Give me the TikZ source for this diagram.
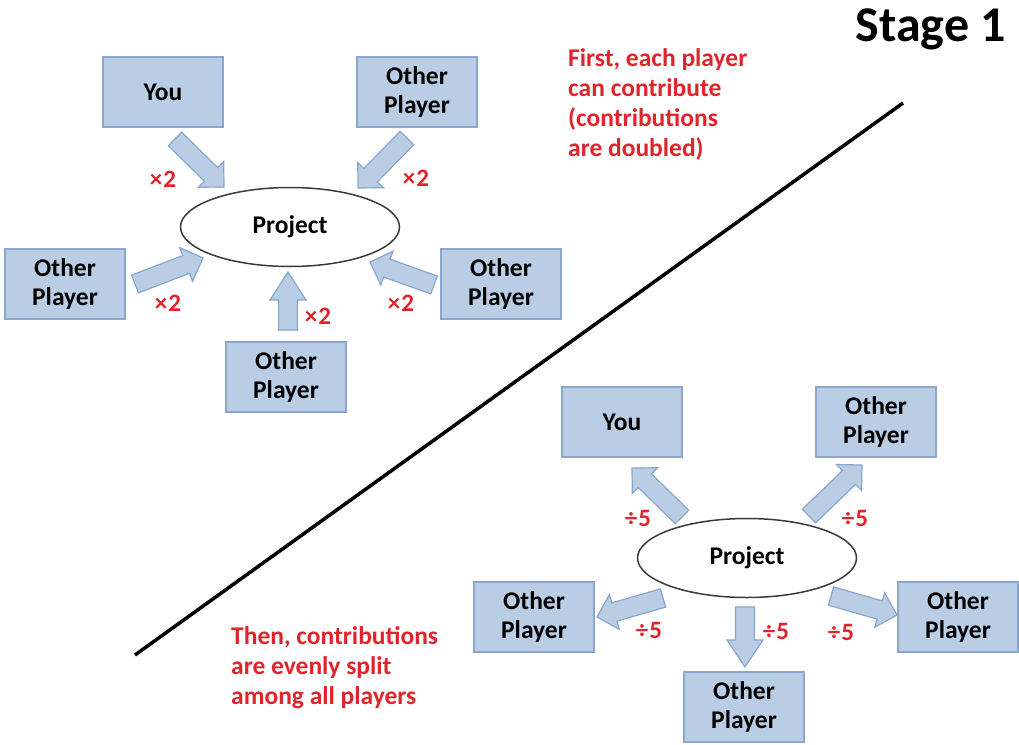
\documentclass[tikz,border=0pt]{standalone}
\usepackage{fontspec}
\setmainfont{Carlito}
\usetikzlibrary{calc,shapes.geometric}
\definecolor{boxfill}{HTML}{B9CDE5}
\definecolor{boxline}{HTML}{8AA6CC}
\definecolor{redtxt}{HTML}{E0242C}
\definecolor{ellline}{HTML}{3A3A3A}
% block arrow from tail coordinate #1 to tip coordinate #2, head length #3
\newcommand\blockarrow[3]{%
  \draw[barrow] let \p1=(#1), \p2=(#2),
      \n1={atan2(\y2-\y1,\x2-\x1)}, \n2={veclen(\x2-\x1,\y2-\y1)} in
    [shift={(\p1)}, rotate=\n1]
    (0pt,-9.5pt) -- ({\n2*1pt-#3pt},-9.5pt) -- ({\n2*1pt-#3pt},-18pt)
    -- ({\n2*1pt},0pt) -- ({\n2*1pt-#3pt},18pt) -- ({\n2*1pt-#3pt},9.5pt)
    -- (0pt,9.5pt) -- cycle;}
\begin{document}
\begin{tikzpicture}[x=1pt,y=-1pt,
  player/.style={draw=boxline, fill=boxfill, line width=1.3pt,
    minimum width=120pt, minimum height=70pt, inner sep=0pt, align=center,
    font=\fontsize{25.5}{29.5}\selectfont\bfseries},
  project/.style={ellipse, draw=ellline, fill=white, line width=1.5pt,
    minimum width=219pt, minimum height=79pt, inner sep=0pt,
    font=\fontsize{25.5}{29}\selectfont\bfseries},
  barrow/.style={draw=boxline, fill=boxfill, line width=1.2pt, line join=miter},
  factor/.style={text=redtxt, font=\fontsize{25}{29}\selectfont\bfseries, inner sep=0pt},
  note/.style={text=redtxt, font=\fontsize{25.5}{30}\selectfont\bfseries,
    align=left, inner sep=0pt, anchor=west}]
\useasboundingbox (0,0) rectangle (1019,744);
\fill[white] (0,0) rectangle (1019,744);

% dividing line
\coordinate (d1) at (135,655);
\coordinate (d2) at (903,103);
\draw[line width=3.5pt, black] (d1) -- (d2);

% ---------- Stage 1 (contribution) ----------
\node[project] (p1) at (290,227) {Project};
\node[player] (you1) at (163,92) {You};
\node[player] (tr1) at (417,92) {Other\\Player};
\node[player] (l1) at (65,284) {Other\\Player};
\node[player] (r1) at (501,284) {Other\\Player};
\node[player] (b1) at (286,377) {Other\\Player};

\coordinate (a1t) at (175,139); \coordinate (a1h) at (224,187);
\coordinate (a2t) at (407,138); \coordinate (a2h) at (358,188);
\coordinate (a3t) at (434,285); \coordinate (a3h) at (370,262);
\coordinate (a4t) at (135,284); \coordinate (a4h) at (203,258);
\coordinate (a5t) at (288,330); \coordinate (a5h) at (288,272);
\blockarrow{a1t}{a1h}{18}
\blockarrow{a2t}{a2h}{18}
\blockarrow{a3t}{a3h}{18}
\blockarrow{a4t}{a4h}{18}
\blockarrow{a5t}{a5h}{28}

\node[factor] (f1) at (163,179) {×\kern1pt2};
\node[factor] (f2) at (416,178) {×\kern1pt2};
\node[factor] (f3) at (168,303) {×\kern1pt2};
\node[factor] (f4) at (318,316) {×\kern1pt2};
\node[factor] (f5) at (401,303) {×\kern1pt2};

% ---------- Stage 2 (split) ----------
\node[project] (p2) at (747,558) {Project};
\node[player] (you2) at (622,422) {You};
\node[player] (tr2) at (876,422) {Other\\Player};
\node[player] (l2) at (534,617) {Other\\Player};
\node[player] (r2) at (958,617) {Other\\Player};
\node[player] (b2) at (744,707) {Other\\Player};

\coordinate (b1t) at (682,517); \coordinate (b1h) at (632,468);
\coordinate (b2t) at (809,516); \coordinate (b2h) at (862,465);
\coordinate (b3t) at (663,598); \coordinate (b3h) at (597,617);
\coordinate (b4t) at (831,596); \coordinate (b4h) at (897,615);
\coordinate (b5t) at (745,607); \coordinate (b5h) at (745,667);
\blockarrow{b1t}{b1h}{18}
\blockarrow{b2t}{b2h}{18}
\blockarrow{b3t}{b3h}{18}
\blockarrow{b4t}{b4h}{18}
\blockarrow{b5t}{b5h}{27}

\node[factor] (g1) at (638,518) {÷\kern1pt5};
\node[factor] (g2) at (855,518) {÷\kern1pt5};
\node[factor] (g3) at (649,630) {÷\kern1pt5};
\node[factor] (g4) at (776,631) {÷\kern1pt5};
\node[factor] (g5) at (841,632) {÷\kern1pt5};

% ---------- texts ----------
\node[note] (n1) at (568,104) {First, each player\\can contribute\\(contributions\\are doubled)};
\node[note] (n2) at (231,668) {Then, contributions\\are evenly split\\among all players};
\node[font=\fontsize{50}{54}\selectfont\bfseries, inner sep=0pt, anchor=east] (st) at (1006,29) {Stage 1};
\end{tikzpicture}
\end{document}
